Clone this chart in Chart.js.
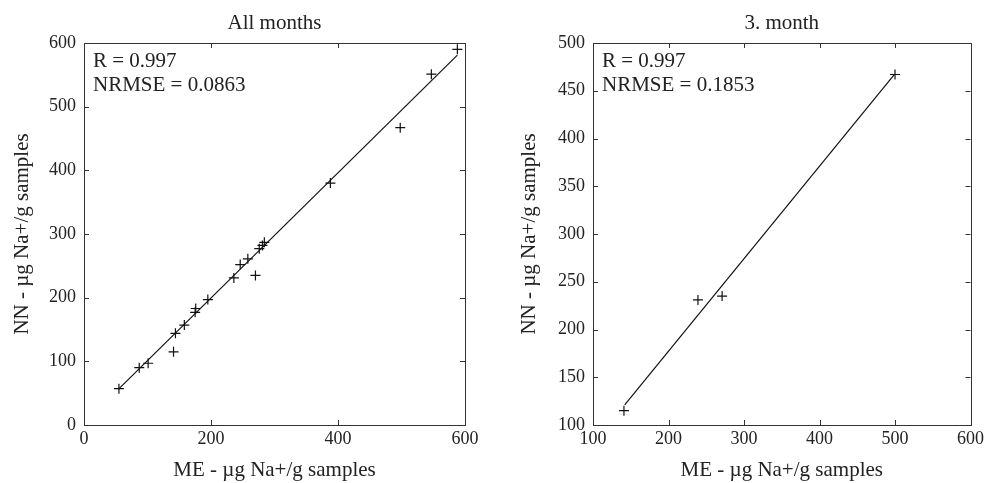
<!DOCTYPE html>
<html>
<head>
<meta charset="utf-8">
<script src="https://cdn.jsdelivr.net/npm/chart.js@4/dist/chart.umd.min.js"></script>
<style>
  html, body { margin: 0; padding: 0; background: #fff; }
  #wrap { position: relative; width: 987px; height: 483px; overflow: hidden; }
  canvas { position: absolute; top: 0; }
</style>
</head>
<body>
<div id="wrap">
  <canvas id="c1" width="490" height="483" style="left:0px"></canvas>
  <canvas id="c2" width="497" height="483" style="left:490px"></canvas>
</div>
<script>
// ---------- data ----------
const allME = [55, 87, 101, 141, 144, 158, 175, 176, 195, 236, 246, 258, 270, 276, 281, 284, 388, 498, 547, 588];
const allNN = [57, 90, 97, 115, 144, 157, 177, 183, 197, 231, 252, 261, 235, 277, 282, 287, 380, 467, 551, 590];
const allFitME = [54, 588];
const allFitNN = [56, 581];

const m3ME = [141, 239, 271, 500];
const m3NN = [115, 231, 235, 467];
const m3FitME = [142, 499];
const m3FitNN = [121, 467];

const titles = ["All months", "3. month"];
const statsAll = ["R = 0.997", "NRMSE = 0.0863"];
const stats3 = ["R = 0.997", "NRMSE = 0.1853"];
const xTitle = "ME - \u00b5g Na+/g samples";
const yTitle = "NN - \u00b5g Na+/g samples";

const FONT = "'Liberation Serif', 'DejaVu Serif', serif";
const INK = "#222";

function pts(xs, ys) { return xs.map((x, i) => ({ x: x, y: ys[i] })); }

const framePlugin = {
  id: 'frame',
  afterDraw(chart, args, opts) {
    const ctx = chart.ctx;
    const a = chart.chartArea;
    ctx.save();
    ctx.strokeStyle = '#333';
    ctx.lineWidth = 1;
    ctx.strokeRect(Math.round(a.left) + 0.5, Math.round(a.top) + 0.5,
                   Math.round(a.right - a.left), Math.round(a.bottom - a.top));
    const tl = 5;
    ctx.beginPath();
    chart.scales.x.ticks.forEach(t => {
      const px = Math.round(chart.scales.x.getPixelForValue(t.value)) + 0.5;
      ctx.moveTo(px, a.bottom); ctx.lineTo(px, a.bottom - tl);
      ctx.moveTo(px, a.top); ctx.lineTo(px, a.top + tl);
    });
    chart.scales.y.ticks.forEach(t => {
      const py = Math.round(chart.scales.y.getPixelForValue(t.value)) + 0.5;
      ctx.moveTo(a.left, py); ctx.lineTo(a.left + tl, py);
      ctx.moveTo(a.right, py); ctx.lineTo(a.right - tl, py);
    });
    ctx.stroke();
    // title
    ctx.fillStyle = INK;
    ctx.font = "21px " + FONT;
    ctx.textAlign = 'center';
    ctx.textBaseline = 'alphabetic';
    ctx.fillText(opts.title, (a.left + a.right) / 2, 29);
    // stats
    ctx.textAlign = 'left';
    ctx.fillText(opts.lines[0], a.left + 9, a.top + 24);
    ctx.fillText(opts.lines[1], a.left + 9, a.top + 48);
    ctx.restore();
  }
};

function makeChart(id, xs, ys, fx, fy, xr, yr, yWidth, rightPad, yTitlePad, title, lines) {
  return new Chart(document.getElementById(id), {
    type: 'scatter',
    data: {
      datasets: [
        {
          data: pts(xs, ys),
          pointStyle: 'cross',
          pointRadius: 5,
          pointBorderWidth: 1.2,
          borderColor: '#111',
          backgroundColor: '#111',
          showLine: false
        },
        {
          data: pts(fx, fy),
          showLine: true,
          pointRadius: 0,
          borderColor: '#111',
          borderWidth: 1.2
        }
      ]
    },
    options: {
      responsive: false,
      animation: false,
      devicePixelRatio: 1,
      layout: { padding: { top: 43, right: rightPad, left: 0, bottom: 0 } },
      plugins: {
        legend: { display: false },
        tooltip: { enabled: false },
        frame: { title: title, lines: lines }
      },
      scales: {
        x: {
          type: 'linear',
          min: xr[0], max: xr[1],
          ticks: { stepSize: xr[2], color: INK, padding: 3, font: { family: FONT, size: 18 }, maxRotation: 0 },
          grid: { display: false, drawTicks: false },
          border: { display: false },
          title: { display: true, text: xTitle, color: INK, font: { family: FONT, size: 21 }, padding: { top: 0, bottom: 0 } },
          afterFit(s) { s.height = 58; }
        },
        y: {
          type: 'linear',
          min: yr[0], max: yr[1],
          ticks: { stepSize: yr[2], color: INK, padding: 8, font: { family: FONT, size: 18 } },
          grid: { display: false, drawTicks: false },
          border: { display: false },
          title: { display: true, text: yTitle, color: INK, font: { family: FONT, size: 21 }, padding: { top: yTitlePad, bottom: 0 } },
          afterFit(s) { s.width = yWidth; }
        }
      }
    },
    plugins: [framePlugin]
  });
}

makeChart('c1', allME, allNN, allFitME, allFitNN, [0, 600, 200], [0, 600, 100], 84, 25, 10, titles[0], statsAll);
makeChart('c2', m3ME, m3NN, m3FitME, m3FitNN, [100, 600, 100], [100, 500, 50], 103, 15, 27, titles[1], stats3);
</script>
</body>
</html>
